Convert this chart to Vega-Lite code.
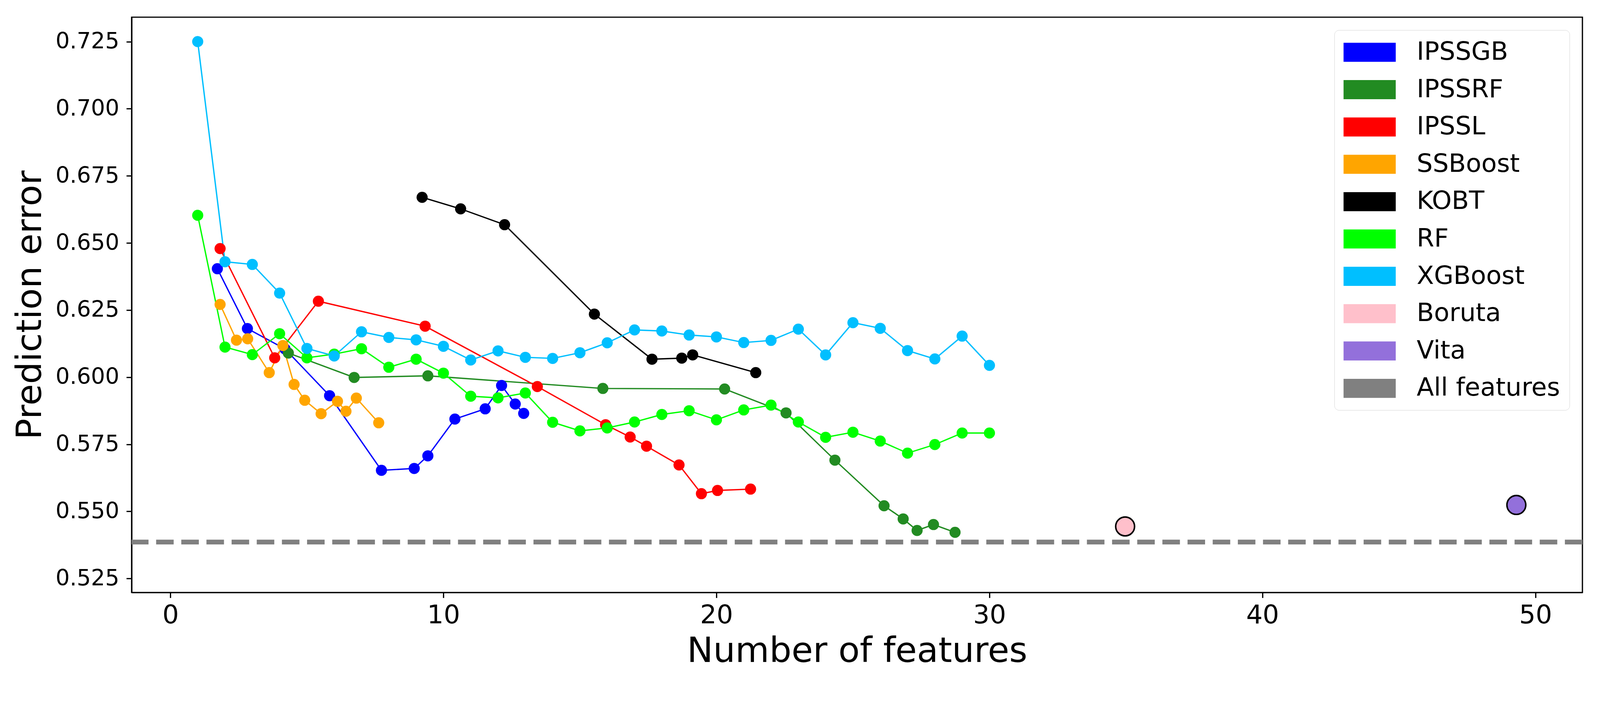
{
  "$schema": "https://vega.github.io/schema/vega-lite/v6.json",
  "description": "Prediction error against number of selected features",
  "width": 3714,
  "height": 1473,
  "autosize": {"type": "none"},
  "padding": {"left": 337, "top": 44, "right": 149, "bottom": 283},
  "background": "white",
  "config": {
    "font": "DejaVu Sans",
    "view": {"stroke": "black", "strokeWidth": 3.2},
    "axis": {
      "grid": false,
      "domainColor": "black",
      "domainWidth": 3.2,
      "tickColor": "black",
      "tickWidth": 3.2,
      "tickSize": 13.6,
      "labelColor": "black",
      "labelFont": "DejaVu Sans",
      "titleFont": "DejaVu Sans",
      "titleColor": "black",
      "titleFontWeight": "normal",
      "titleFontSize": 89.4,
      "labelFlush": false,
      "labelOverlap": false
    }
  },
  "data": {
    "values": [
      {"method": "All features", "error": 0.5386},
      {"method": "IPSSGB", "features": 1.72, "error": 0.6404},
      {"method": "IPSSGB", "features": 2.82, "error": 0.6181},
      {"method": "IPSSGB", "features": 4.2, "error": 0.6105},
      {"method": "IPSSGB", "features": 5.83, "error": 0.5931},
      {"method": "IPSSGB", "features": 7.73, "error": 0.5653},
      {"method": "IPSSGB", "features": 8.93, "error": 0.566},
      {"method": "IPSSGB", "features": 9.43, "error": 0.5707},
      {"method": "IPSSGB", "features": 10.42, "error": 0.5844},
      {"method": "IPSSGB", "features": 11.53, "error": 0.5882},
      {"method": "IPSSGB", "features": 12.13, "error": 0.5969},
      {"method": "IPSSGB", "features": 12.63, "error": 0.59},
      {"method": "IPSSGB", "features": 12.94, "error": 0.5865},
      {"method": "IPSSRF", "features": 4.32, "error": 0.609},
      {"method": "IPSSRF", "features": 6.73, "error": 0.5999},
      {"method": "IPSSRF", "features": 9.43, "error": 0.6005},
      {"method": "IPSSRF", "features": 15.84, "error": 0.5958},
      {"method": "IPSSRF", "features": 20.3, "error": 0.5956},
      {"method": "IPSSRF", "features": 22.55, "error": 0.5867},
      {"method": "IPSSRF", "features": 24.34, "error": 0.5691},
      {"method": "IPSSRF", "features": 26.14, "error": 0.5521},
      {"method": "IPSSRF", "features": 26.84, "error": 0.5472},
      {"method": "IPSSRF", "features": 27.35, "error": 0.5429},
      {"method": "IPSSRF", "features": 27.95, "error": 0.5451},
      {"method": "IPSSRF", "features": 28.74, "error": 0.5422},
      {"method": "IPSSL", "features": 1.82, "error": 0.6479},
      {"method": "IPSSL", "features": 3.82, "error": 0.6072},
      {"method": "IPSSL", "features": 5.42, "error": 0.6283},
      {"method": "IPSSL", "features": 9.33, "error": 0.619},
      {"method": "IPSSL", "features": 13.44, "error": 0.5965},
      {"method": "IPSSL", "features": 15.94, "error": 0.5823},
      {"method": "IPSSL", "features": 16.84, "error": 0.5777},
      {"method": "IPSSL", "features": 17.44, "error": 0.5743},
      {"method": "IPSSL", "features": 18.63, "error": 0.5673},
      {"method": "IPSSL", "features": 19.45, "error": 0.5566},
      {"method": "IPSSL", "features": 20.04, "error": 0.5578},
      {"method": "IPSSL", "features": 21.25, "error": 0.5583},
      {"method": "SSBoost", "features": 1.82, "error": 0.6271},
      {"method": "SSBoost", "features": 2.42, "error": 0.6138},
      {"method": "SSBoost", "features": 2.83, "error": 0.6143},
      {"method": "SSBoost", "features": 3.62, "error": 0.6017},
      {"method": "SSBoost", "features": 4.12, "error": 0.6118},
      {"method": "SSBoost", "features": 4.53, "error": 0.5973},
      {"method": "SSBoost", "features": 4.92, "error": 0.5914},
      {"method": "SSBoost", "features": 5.52, "error": 0.5864},
      {"method": "SSBoost", "features": 6.12, "error": 0.591},
      {"method": "SSBoost", "features": 6.43, "error": 0.5873},
      {"method": "SSBoost", "features": 6.81, "error": 0.5922},
      {"method": "SSBoost", "features": 7.63, "error": 0.583},
      {"method": "KOBT", "features": 9.22, "error": 0.667},
      {"method": "KOBT", "features": 10.63, "error": 0.6627},
      {"method": "KOBT", "features": 12.24, "error": 0.6568},
      {"method": "KOBT", "features": 15.53, "error": 0.6235},
      {"method": "KOBT", "features": 17.64, "error": 0.6067},
      {"method": "KOBT", "features": 18.73, "error": 0.6071},
      {"method": "KOBT", "features": 19.13, "error": 0.6083},
      {"method": "KOBT", "features": 21.44, "error": 0.6017},
      {"method": "RF", "features": 1, "error": 0.6603},
      {"method": "RF", "features": 2, "error": 0.6112},
      {"method": "RF", "features": 3, "error": 0.6084},
      {"method": "RF", "features": 4, "error": 0.6162},
      {"method": "RF", "features": 5, "error": 0.6072},
      {"method": "RF", "features": 6, "error": 0.6086},
      {"method": "RF", "features": 7, "error": 0.6106},
      {"method": "RF", "features": 8, "error": 0.6037},
      {"method": "RF", "features": 9, "error": 0.6067},
      {"method": "RF", "features": 10, "error": 0.6015},
      {"method": "RF", "features": 11, "error": 0.5929},
      {"method": "RF", "features": 12, "error": 0.5923},
      {"method": "RF", "features": 13, "error": 0.5941},
      {"method": "RF", "features": 14, "error": 0.5832},
      {"method": "RF", "features": 15, "error": 0.58},
      {"method": "RF", "features": 16, "error": 0.5811},
      {"method": "RF", "features": 17, "error": 0.5833},
      {"method": "RF", "features": 18, "error": 0.5861},
      {"method": "RF", "features": 19, "error": 0.5875},
      {"method": "RF", "features": 20, "error": 0.5841},
      {"method": "RF", "features": 21, "error": 0.5878},
      {"method": "RF", "features": 22, "error": 0.5896},
      {"method": "RF", "features": 23, "error": 0.5833},
      {"method": "RF", "features": 24, "error": 0.5776},
      {"method": "RF", "features": 25, "error": 0.5795},
      {"method": "RF", "features": 26, "error": 0.5762},
      {"method": "RF", "features": 27, "error": 0.5717},
      {"method": "RF", "features": 28, "error": 0.5749},
      {"method": "RF", "features": 29, "error": 0.5792},
      {"method": "RF", "features": 30, "error": 0.5792},
      {"method": "XGBoost", "features": 1, "error": 0.725},
      {"method": "XGBoost", "features": 2, "error": 0.643},
      {"method": "XGBoost", "features": 3, "error": 0.642},
      {"method": "XGBoost", "features": 4, "error": 0.6313},
      {"method": "XGBoost", "features": 5, "error": 0.6107},
      {"method": "XGBoost", "features": 6, "error": 0.6079},
      {"method": "XGBoost", "features": 7, "error": 0.6169},
      {"method": "XGBoost", "features": 8, "error": 0.6148},
      {"method": "XGBoost", "features": 9, "error": 0.6139},
      {"method": "XGBoost", "features": 10, "error": 0.6115},
      {"method": "XGBoost", "features": 11, "error": 0.6064},
      {"method": "XGBoost", "features": 12, "error": 0.6098},
      {"method": "XGBoost", "features": 13, "error": 0.6074},
      {"method": "XGBoost", "features": 14, "error": 0.607},
      {"method": "XGBoost", "features": 15, "error": 0.6091},
      {"method": "XGBoost", "features": 16, "error": 0.6128},
      {"method": "XGBoost", "features": 17, "error": 0.6176},
      {"method": "XGBoost", "features": 18, "error": 0.6172},
      {"method": "XGBoost", "features": 19, "error": 0.6157},
      {"method": "XGBoost", "features": 20, "error": 0.615},
      {"method": "XGBoost", "features": 21, "error": 0.6129},
      {"method": "XGBoost", "features": 22, "error": 0.6137},
      {"method": "XGBoost", "features": 23, "error": 0.6179},
      {"method": "XGBoost", "features": 24, "error": 0.6083},
      {"method": "XGBoost", "features": 25, "error": 0.6203},
      {"method": "XGBoost", "features": 26, "error": 0.6182},
      {"method": "XGBoost", "features": 27, "error": 0.6099},
      {"method": "XGBoost", "features": 28, "error": 0.6068},
      {"method": "XGBoost", "features": 29, "error": 0.6153},
      {"method": "XGBoost", "features": 30, "error": 0.6044},
      {"method": "Boruta", "features": 34.97, "error": 0.5444},
      {"method": "Vita", "features": 49.3, "error": 0.5524}
    ]
  },
  "encoding": {
    "y": {
      "field": "error",
      "type": "quantitative",
      "scale": {"domain": [0.5198, 0.7341], "nice": false, "zero": false},
      "axis": {
        "title": "Prediction error",
        "titlePadding": 18,
        "values": [0.525, 0.55, 0.575, 0.6, 0.625, 0.65, 0.675, 0.7, 0.725],
        "format": ".3f",
        "labelFontSize": 57,
        "labelPadding": 18.5
      }
    },
    "color": {
      "field": "method",
      "type": "nominal",
      "scale": {
        "domain": ["IPSSGB", "IPSSRF", "IPSSL", "SSBoost", "KOBT", "RF", "XGBoost", "Boruta", "Vita", "All features"],
        "range": ["#0000ff", "#228b22", "#ff0000", "#ffa500", "#000000", "#00ff00", "#00bfff", "#ffc0cb", "#9370db", "#808080"]
      },
      "legend": {
        "title": null,
        "orient": "top-right",
        "offset": 33,
        "padding": 23.4,
        "symbolType": "M-1,-0.73H3V0.73H-1Z",
        "symbolSize": 4462,
        "symbolStrokeWidth": 0,
        "symbolOpacity": 1,
        "labelFont": "DejaVu Sans",
        "labelFontSize": 64.5,
        "labelColor": "black",
        "labelOffset": 120.3,
        "labelLimit": 0,
        "rowPadding": 30.6,
        "fillColor": "white",
        "strokeColor": "#d6d6d6",
        "cornerRadius": 11.7,
        "encode": {
          "symbols": {
            "update": {
              "fill": {"signal": "scale('color', datum.value)"},
              "opacity": {"value": 1}
            }
          }
        }
      }
    }
  },
  "layer": [
    {
      "transform": [{"filter": "datum.method === 'All features'"}],
      "mark": {"type": "rule", "strokeDash": [44.9, 19.5], "strokeWidth": 12.2, "strokeCap": "butt"},
      "encoding": {}
    },
    {
      "transform": [{"filter": "datum.method !== 'All features' && datum.method !== 'Boruta' && datum.method !== 'Vita'"}],
      "mark": {"type": "line", "strokeWidth": 3.4},
      "encoding": {
        "x": {
          "field": "features",
          "type": "quantitative",
          "scale": {"domain": [-1.42, 51.72], "nice": false, "zero": false},
          "axis": {
            "title": "Number of features",
            "titlePadding": 15,
            "values": [0, 10, 20, 30, 40, 50],
            "format": "d",
            "labelFontSize": 66.3,
            "labelPadding": 12.7
          }
        }
      }
    },
    {
      "transform": [{"filter": "datum.method !== 'All features' && datum.method !== 'Boruta' && datum.method !== 'Vita'"}],
      "mark": {"type": "circle", "size": 812, "opacity": 1},
      "encoding": {
        "x": {"field": "features", "type": "quantitative"}
      }
    },
    {
      "transform": [{"filter": "datum.method === 'Boruta' || datum.method === 'Vita'"}],
      "mark": {"type": "circle", "size": 2337, "opacity": 1, "stroke": "black", "strokeWidth": 3.9},
      "encoding": {
        "x": {"field": "features", "type": "quantitative"}
      }
    }
  ]
}
